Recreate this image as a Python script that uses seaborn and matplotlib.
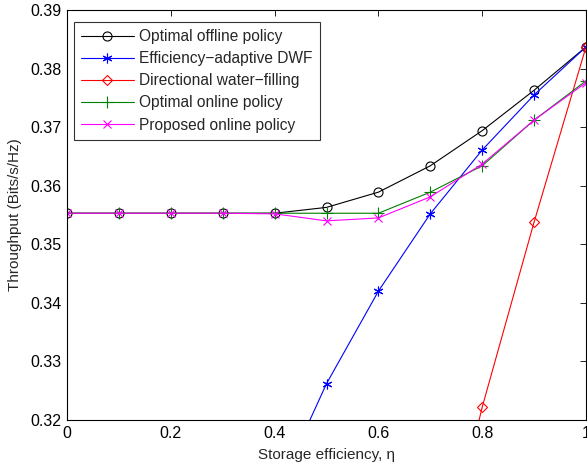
import numpy as np
import pandas as pd
import matplotlib
matplotlib.use("Agg")
import matplotlib.pyplot as plt
import seaborn as sns

eta = [0.0, 0.1, 0.2, 0.3, 0.4, 0.5, 0.6, 0.7, 0.8, 0.9, 1.0]

offline = [0.3553, 0.3553, 0.3553, 0.3553, 0.3553, 0.3563, 0.3589, 0.3634, 0.3694, 0.3763, 0.3837]
adaptive_dwf = [0.245, 0.260, 0.275, 0.290, 0.3068, 0.3262, 0.3420, 0.3552, 0.3661, 0.3755, 0.3837]
dwf = [0.150, 0.165, 0.180, 0.200, 0.220, 0.240, 0.260, 0.2852, 0.3222, 0.3538, 0.3837]
online_opt = [0.3553, 0.3553, 0.3553, 0.3553, 0.3553, 0.3553, 0.3553, 0.3589, 0.3634, 0.3712, 0.3779]
online_prop = [0.3553, 0.3553, 0.3553, 0.3553, 0.3552, 0.3540, 0.3545, 0.3581, 0.3637, 0.3712, 0.3776]

labels = ["Optimal offline policy", "Efficiency\u2212adaptive DWF",
          "Directional water\u2212filling", "Optimal online policy",
          "Proposed online policy"]

sns.set_style("white")
plt.rcParams["font.family"] = ["Liberation Sans", "DejaVu Sans"]

fig = plt.figure(figsize=(5.87, 4.66), dpi=100)
ax = fig.add_axes([67 / 587, 1 - 420 / 466, 519 / 587, 410 / 466])

styles = [
    (offline, "black", "o", 6.5),
    (adaptive_dwf, "#0000ff", (6, 2, 0), 7),
    (dwf, "#ff0000", "D", 5.5),
    (online_opt, "#008000", "+", 9),
    (online_prop, "#ff00ff", "x", 6),
]

for (vals, col, mk, ms), lab in zip(styles, labels):
    df = pd.DataFrame({"eta": eta, "thr": vals})
    sns.lineplot(data=df, x="eta", y="thr", ax=ax, color=col, marker=mk,
                 markersize=ms, markerfacecolor="none", markeredgecolor=col,
                 markeredgewidth=0.8, linewidth=0.8, label=lab)

ax.set_xlim(0, 1)
ax.set_ylim(0.32, 0.39)
ax.set_xticks([0, 0.2, 0.4, 0.6, 0.8, 1.0])
ax.set_xticklabels(["0", "0.2", "0.4", "0.6", "0.8", "1"])
ax.set_yticks(np.arange(0.32, 0.3901, 0.01))
ax.set_yticklabels(["%.2f" % v for v in np.arange(0.32, 0.3901, 0.01)])
ax.tick_params(direction="in", length=4, width=0.6, top=True, right=True,
               labelsize=11.5, colors="black", pad=4)
for s in ax.spines.values():
    s.set_color("black")
    s.set_linewidth(0.8)
    s.set_visible(True)

ax.set_xlabel("Storage efficiency, \u03b7", fontsize=11, labelpad=5)
ax.set_ylabel("Throughput (Bits/s/Hz)", fontsize=11, labelpad=6)

leg = ax.legend(loc="upper left", bbox_to_anchor=(7 / 519, 1 - 12 / 410),
                borderaxespad=0, fontsize=11.2, handlelength=3.4, frameon=True,
                fancybox=False, edgecolor="black", borderpad=0.45,
                labelspacing=0.46, handletextpad=0.35)
leg.get_frame().set_linewidth(0.8)

fig.savefig("out.png", dpi=100)
